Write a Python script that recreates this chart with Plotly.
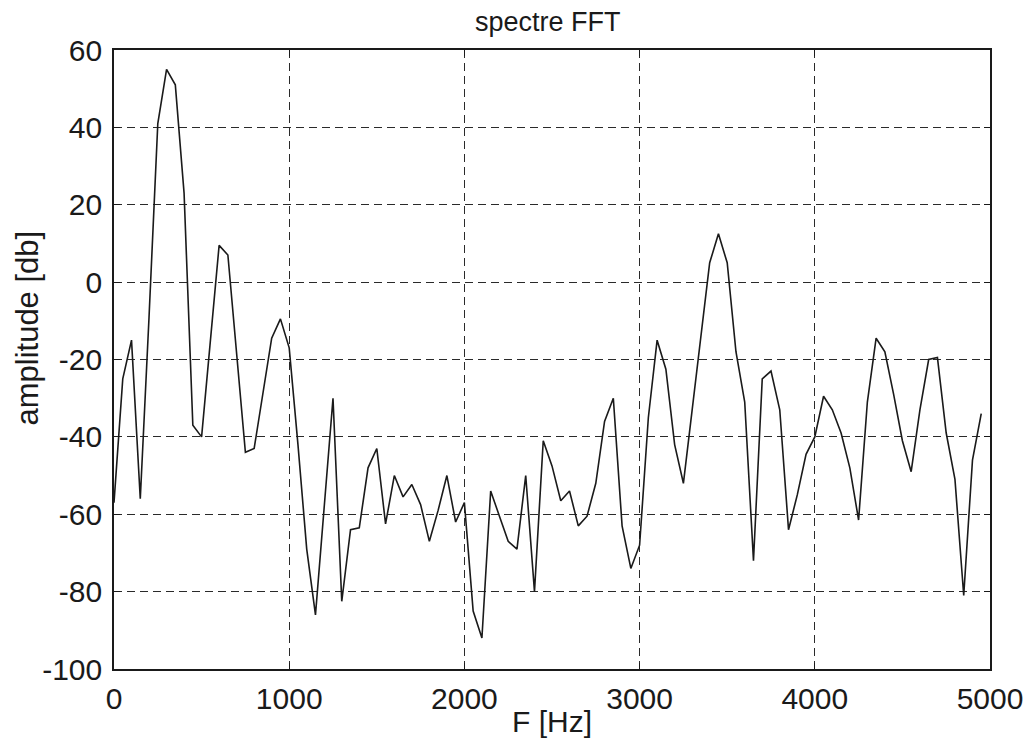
import plotly.graph_objects as go

# Frequency bins (Hz)
freq_hz = [
    0, 50, 100, 150, 200, 250, 300, 350, 400, 450,
    500, 550, 600, 650, 700, 750, 800, 850, 900, 950,
    1000, 1050, 1100, 1150, 1200, 1250, 1300, 1350, 1400, 1450,
    1500, 1550, 1600, 1650, 1700, 1750, 1800, 1850, 1900, 1950,
    2000, 2050, 2100, 2150, 2200, 2250, 2300, 2350, 2400, 2450,
    2500, 2550, 2600, 2650, 2700, 2750, 2800, 2850, 2900, 2950,
    3000, 3050, 3100, 3150, 3200, 3250, 3300, 3350, 3400, 3450,
    3500, 3550, 3600, 3650, 3700, 3750, 3800, 3850, 3900, 3950,
    4000, 4050, 4100, 4150, 4200, 4250, 4300, 4350, 4400, 4450,
    4500, 4550, 4600, 4650, 4700, 4750, 4800, 4850, 4900, 4950,
]

# Amplitude (dB)
amplitude_db = [
    -57, -25, -15, -56, -9, 41, 55, 51, 23, -37,
    -40, -15, 9.5, 7, -19, -44, -43, -29, -14.5, -9.5,
    -17, -42, -69, -86, -58, -30, -82.5, -64, -63.5, -48,
    -43, -62.5, -50, -55.5, -52.3, -57.5, -67, -59, -50, -62,
    -57, -85, -92, -54, -60.5, -67, -69, -50, -80, -41,
    -47.5, -56.5, -54, -63, -60.5, -52, -36, -30, -63, -74,
    -68, -35, -15, -22.5, -42, -52, -33, -14, 5, 12.5,
    5, -18, -31, -72, -25, -23, -33, -64, -55, -44.5,
    -40, -29.5, -33, -39, -48, -61.5, -31, -14.5, -18, -29,
    -41, -49, -33, -20, -19.5, -39, -51, -81, -46, -34,
]

x_ticks = [0, 1000, 2000, 3000, 4000, 5000]
x_ticklabels = ["0", "1000", "2000", "3000", "4000", "5000"]
y_ticks = [-100, -80, -60, -40, -20, 0, 20, 40, 60]
y_ticklabels = ["-100", "-80", "-60", "-40", "-20", "0", "20", "40", "60"]

FONT = "Liberation Sans, Arial, Helvetica, sans-serif"
INK = "#1a1a1a"

fig = go.Figure()
fig.add_trace(go.Scatter(
    x=freq_hz, y=amplitude_db, mode="lines",
    line=dict(color=INK, width=1.6),
    showlegend=False, hoverinfo="x+y",
))

axis_common = dict(
    showline=True, linecolor=INK, linewidth=1.6, mirror="ticks",
    ticks="inside", ticklen=6, tickwidth=1.2, tickcolor=INK,
    showgrid=True, gridcolor="#2a2a2a", gridwidth=1.2, griddash="8px,5px",
    zeroline=False, automargin=False,
    tickfont=dict(family=FONT, size=30, color=INK),
)

fig.update_xaxes(range=[0, 5000], tickmode="array", tickvals=x_ticks,
                 ticktext=x_ticklabels, ticklabelstandoff=2, **axis_common)
fig.update_yaxes(range=[-100, 60], tickmode="array", tickvals=y_ticks,
                 ticktext=y_ticklabels, ticklabelstandoff=4, **axis_common)

fig.update_layout(
    width=1028, height=744,
    margin=dict(l=114, r=38, t=50, b=75),
    paper_bgcolor="white", plot_bgcolor="white",
    font=dict(family=FONT, color=INK),
    annotations=[
        dict(text="spectre FFT", xref="paper", yref="paper", x=0.495, y=1.0,
             yshift=28, xanchor="center", yanchor="middle", showarrow=False,
             font=dict(family=FONT, size=27, color=INK)),
        dict(text="F [Hz]", xref="paper", yref="paper", x=0.5, y=0.0,
             yshift=-52, xanchor="center", yanchor="middle", showarrow=False,
             font=dict(family=FONT, size=30, color=INK)),
        dict(text="amplitude [db]", xref="paper", yref="paper", x=0.0,
             y=0.55, xshift=-86, xanchor="center", yanchor="middle",
             textangle=-90, showarrow=False,
             font=dict(family=FONT, size=31, color=INK)),
    ],
)

fig.write_html("out.html")
